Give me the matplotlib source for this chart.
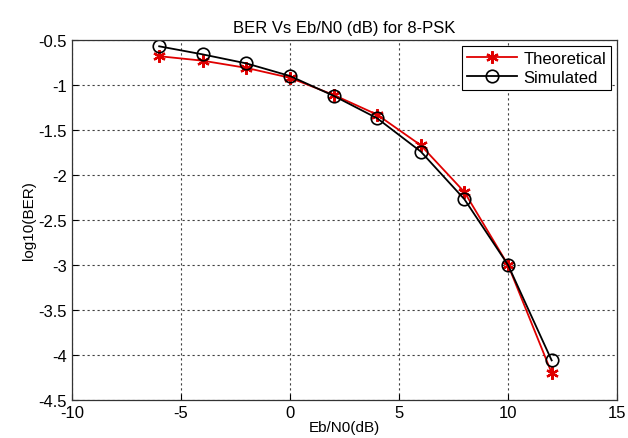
import numpy as np
import matplotlib.pyplot as plt
from matplotlib.ticker import FuncFormatter

# Eb/N0 values (dB)
ebno_db = [-6, -4, -2, 0, 2, 4, 6, 8, 10, 12]

# log10(BER)
ber_theory = [-0.68, -0.73, -0.81, -0.92, -1.11, -1.33, -1.67, -2.19, -3.0, -4.2]
ber_sim = [-0.57, -0.66, -0.76, -0.90, -1.12, -1.37, -1.74, -2.27, -3.0, -4.06]

x_ticks = [-10, -5, 0, 5, 10, 15]
y_ticks = [-4.5, -4, -3.5, -3, -2.5, -2, -1.5, -1, -0.5]

plt.rcParams['font.family'] = ['Liberation Sans', 'DejaVu Sans']
plt.rcParams['axes.unicode_minus'] = False

fig = plt.figure(figsize=(6.28, 4.39), dpi=100)
ax = fig.add_axes([0.1146, 0.0866, 0.868, 0.82])

# asterisk marker like matlab '*'
ax.plot(ebno_db, ber_theory, color='#e00000', marker=(6, 2, 0), markersize=9,
        markeredgewidth=1.6, linewidth=1.3, label='Theoretical')
ax.plot(ebno_db, ber_sim, color='black', marker='o', markersize=9,
        markerfacecolor='none', markeredgewidth=1.2, linewidth=1.3,
        label='Simulated')

ax.set_xlim(-10, 15)
ax.set_ylim(-4.5, -0.5)
ax.set_xticks(x_ticks)
ax.set_yticks(y_ticks)
ax.yaxis.set_major_formatter(FuncFormatter(lambda v, p: '%g' % v))
ax.tick_params(direction='in', labelsize=12, length=4, width=0.8)

ax.grid(True, color='0.25', linestyle=(0, (2, 2.5)), linewidth=0.8)
for s in ax.spines.values():
    s.set_linewidth(0.9)
    s.set_color('#333333')

ax.set_title('BER Vs Eb/N0 (dB) for 8-PSK', fontsize=12, pad=6)
ax.set_xlabel('Eb/N0(dB)', fontsize=11, labelpad=0)
ax.set_ylabel('log10(BER)', fontsize=11, labelpad=2)

leg = ax.legend(loc='upper right', fontsize=12, fancybox=False,
                framealpha=1, edgecolor='black', borderaxespad=0.35,
                handlelength=3.0, borderpad=0.3, labelspacing=0.25,
                handletextpad=0.4)
leg.get_frame().set_linewidth(0.8)

fig.savefig('out.png', dpi=100)
